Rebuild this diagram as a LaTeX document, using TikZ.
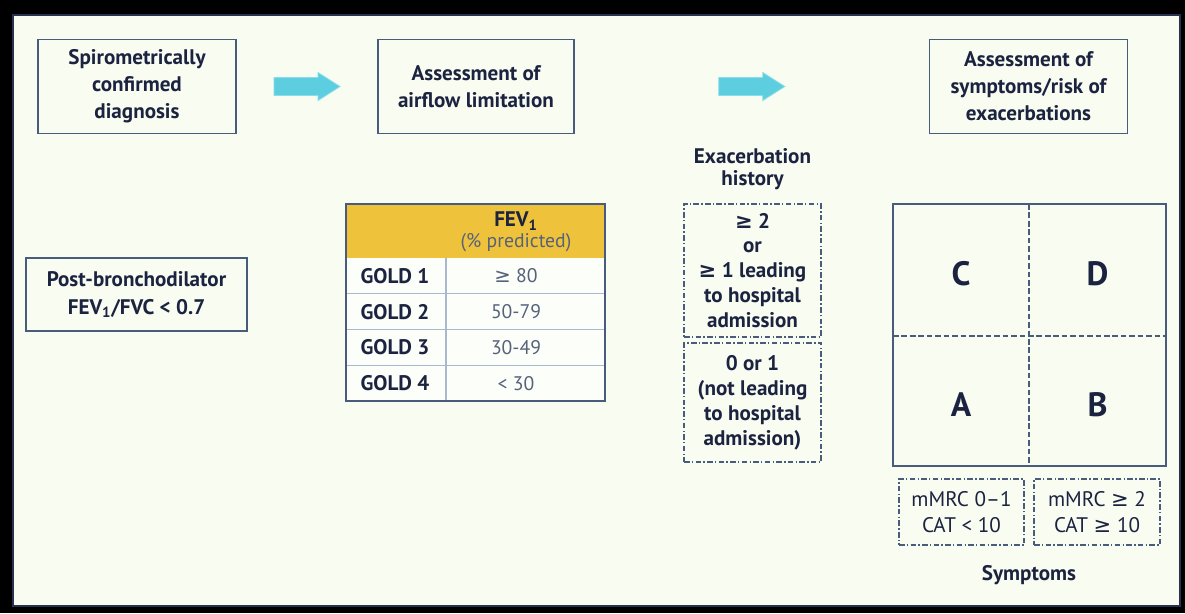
\documentclass[tikz,border=0pt]{standalone}
\usepackage{fontspec}
\setmainfont{PT Sans}
\newfontfamily\symfont{DejaVu Sans}
\usetikzlibrary{calc}

\definecolor{ink}{HTML}{1C2340}
\definecolor{boxline}{HTML}{4A5C7C}
\definecolor{panelline}{HTML}{26324F}
\definecolor{cream}{HTML}{F8FCF1}
\definecolor{gold}{HTML}{EFC23C}
\definecolor{arrowfill}{HTML}{5CCEDF}
\definecolor{arrowedge}{HTML}{8ADDEA}
\definecolor{rowline}{HTML}{A9B8CF}
\definecolor{valtext}{HTML}{56627A}

% greater-or-equal sign with a flat bar
\newcommand{\geqsign}{{\symfont\char"2265}}

% block arrow centred on a coordinate
\newcommand{\blockarrow}[1]{%
  \fill[arrowfill,draw=arrowedge,line width=0.6pt,shift={(#1)}]
    (-33,-9) -- (11,-9) -- (11,-14) -- (33,0) -- (11,14) -- (11,9) -- (-33,9) -- cycle;}

\begin{document}
\begin{tikzpicture}[x=0.025cm,y=-0.025cm,
    box/.style={draw=boxline,line width=1.1pt,fill=cream,text=ink,align=center,
      font=\bfseries\fontsize{15}{19.2}\selectfont,inner sep=0pt},
    dashbox/.style={draw=boxline,line width=0.9pt,
      dash pattern=on 4pt off 1.6pt on 1pt off 1.6pt,align=center,text=ink,
      font=\bfseries\fontsize{15}{17.7}\selectfont,inner sep=0pt},
    lbl/.style={text=ink,align=center,font=\bfseries\fontsize{15}{16}\selectfont,inner sep=0pt},
    quad/.style={text=ink,font=\bfseries\fontsize{24}{26}\selectfont,inner sep=0pt}]

	% --- background and panel ---
	\fill[black] (0,0) rectangle (1185,613);
	\fill[cream,draw=panelline,line width=1.8pt] (13,15) rectangle (1180,606);

	% --- top row of steps ---
	\node[box,minimum width=4.95cm,minimum height=2.35cm] (diag) at (137,86.5)
		{Spirometrically\\confirmed\\diagnosis};
	\node[box,minimum width=4.9cm,minimum height=2.35cm] (airflow) at (476,86.5)
		{Assessment of\\airflow limitation};
	\node[box,minimum width=4.95cm,minimum height=2.35cm] (risk) at (1028.5,86.5)
		{Assessment of\\symptoms/risk of\\exacerbations};

	% arrows half way between the boxes
	\coordinate (a1) at ($(diag.east)!0.5!(airflow.west)$);
	\coordinate (a2) at ($(airflow.east)!0.5!(risk.west)$);
	\blockarrow{a1}
	\blockarrow{a2}

	% --- diagnosis criterion ---
	\node[box,minimum width=5.525cm,minimum height=1.825cm,
		font=\bfseries\fontsize{15}{20}\selectfont] (post) at (136.5,294.5)
		{Post-bronchodilator\\FEV\textsubscript{1}/FVC < 0.7};

	% --- GOLD table ---
	\fill[white!60!cream] (346,258) rectangle (605,401);
	\fill[gold] (346,204) rectangle (605,258);
	\node[text=ink,font=\bfseries\fontsize{15}{16}\selectfont,inner sep=0pt]
		(fevhead) at (516,221) {FEV\textsubscript{1}};
	\node[text=valtext,font=\fontsize{14}{15}\selectfont,inner sep=0pt]
		(fevunit) at (516,243) {(\% predicted)};
	\foreach \i/\val in {1/\geqsign{} 80, 2/50-79, 3/30-49, 4/< 30}{
		\node[text=ink,font=\bfseries\fontsize{15}{16}\selectfont,inner sep=0pt]
			(gold\i) at (395,{258+35.75*(\i-0.5)}) {GOLD \i};
		\node[text=valtext,font=\fontsize{14}{15}\selectfont,inner sep=0pt]
			(fev\i) at (516,{258+35.75*(\i-0.5)}) {\val};
	}
	\foreach \k in {1,2,3}
		\draw[rowline,line width=0.8pt] (346,{258+35.75*\k}) -- (605,{258+35.75*\k});
	\draw[rowline,line width=0.8pt] (446,258) -- (446,401);
	\draw[boxline,line width=1.2pt] (346,204) rectangle (605,401);

	% --- exacerbation history ---
	\node[lbl] (hist) at (752.5,169) {Exacerbation\\history};
	\node[dashbox,minimum width=3.425cm,minimum height=3.325cm] (high) at (752.5,270.5)
		{\geqsign{} 2\\or\\\geqsign{} 1 leading\\to hospital\\admission};
	\node[dashbox,minimum width=3.425cm,minimum height=2.975cm] (low) at (752.5,402.5)
		{0 or 1\\(not leading\\to hospital\\admission)};

	% --- ABCD grid ---
	\draw[boxline,line width=1.2pt] (893,204) rectangle (1166,466);
	\draw[boxline,line width=0.8pt,dash pattern=on 4pt off 2pt] (1029,204) -- (1029,466);
	\draw[boxline,line width=0.8pt,dash pattern=on 4pt off 2pt] (893,336) -- (1166,336);
	\node[quad] (qc) at (961,274) {C};
	\node[quad] (qd) at (1097.5,274) {D};
	\node[quad] (qa) at (961,405) {A};
	\node[quad] (qb) at (1097.5,405) {B};

	% symptom scores
	\node[dashbox,minimum width=3.125cm,minimum height=1.65cm,
		font=\fontsize{15}{18}\selectfont] (lowsym) at (961.5,512)
		{mMRC 0–1\\CAT < 10};
	\node[dashbox,minimum width=3.15cm,minimum height=1.65cm,
		font=\fontsize{15}{18}\selectfont] (highsym) at (1097,512)
		{mMRC \geqsign{} 2\\CAT \geqsign{} 10};
	\node[lbl] (sym) at (1029,575) {Symptoms};

\end{tikzpicture}
\end{document}
